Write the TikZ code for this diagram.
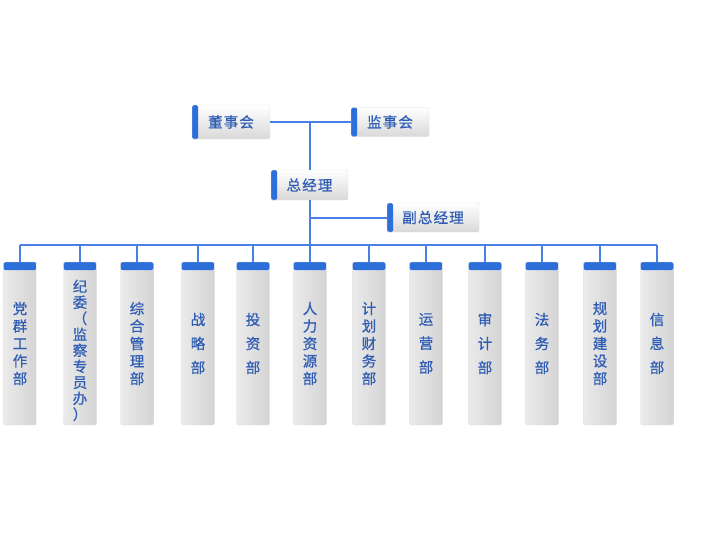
\documentclass[tikz,border=0pt]{standalone}
\usepackage{fontspec}
\newfontfamily\cjk[FakeBold=0.8]{Noto Sans CJK SC}
\newfontfamily\cjkwide[FakeBold=0.8, LetterSpace=8]{Noto Sans CJK SC}
\definecolor{linkblue}{HTML}{4A7FE6}
\definecolor{capblue}{HTML}{2C6FDB}
\definecolor{txtblue}{HTML}{2F5DB4}
\tikzset{
	conn/.style={draw=linkblue, line width=2pt},
	topbox/.style={rectangle, rounded corners=1.5pt, draw=black!12, top color=white, bottom color=black!15,
		inner sep=0pt, text=txtblue, font=\cjkwide\fontsize{14.5}{16}\selectfont,
		path picture={\fill[capblue] (path picture bounding box.north west) rectangle ([xshift=6pt]path picture bounding box.south west);}},
	dept/.style={rectangle, rounded corners=2pt, draw=black!12, shading=axis, left color=black!8, middle color=black!3, right color=black!17,
		minimum width=33pt, minimum height=163pt, inner sep=0pt, align=center, text=txtblue,
		font=\cjk\fontsize{14.5}{17.5}\selectfont,
		path picture={\fill[capblue] (path picture bounding box.north west) rectangle ([yshift=-8pt]path picture bounding box.north east);}},
	deptshort/.style={dept, font=\cjk\fontsize{14.5}{24}\selectfont},
	deptlong/.style={dept, font=\cjk\fontsize{14.5}{16}\selectfont}
}
\begin{document}
\begin{tikzpicture}[x=1pt, y=-1pt]
	%%%%% START %%%%%
	\useasboundingbox (0,0) rectangle (709,555);
	
	\node[topbox, minimum width=78pt, minimum height=34pt] (dsh) at (231,122) {董事会};
	\node[topbox, minimum width=78pt, minimum height=29pt] (jsh) at (390,122) {监事会};
	\node[topbox, minimum width=77pt, minimum height=30pt] (zjl) at (309.5,185) {总经理};
	\node[topbox, minimum width=92pt, minimum height=29pt] (fzjl) at (433,217.5) {副总经理};
	\coordinate (bus) at (309.5,245);
	
	\node[dept] (d1) at (20,343.5) {党\\群\\工\\作\\部};
	\node[deptlong] (d2) at (80,343.5) {\rule{0pt}{26pt}纪\\委\\（\\监\\察\\专\\员\\办\\）};
	\node[dept] (d3) at (137,343.5) {综\\合\\管\\理\\部};
	\node[deptshort] (d4) at (198,343.5) {战\\略\\部};
	\node[deptshort] (d5) at (253,343.5) {投\\资\\部};
	\node[dept] (d6) at (310,343.5) {人\\力\\资\\源\\部};
	\node[dept] (d7) at (369,343.5) {计\\划\\财\\务\\部};
	\node[deptshort] (d8) at (426,343.5) {运\\营\\部};
	\node[deptshort] (d9) at (485,343.5) {审\\计\\部};
	\node[deptshort] (d10) at (542,343.5) {法\\务\\部};
	\node[dept] (d11) at (600,343.5) {规\\划\\建\\设\\部};
	\node[deptshort] (d12) at (657,343.5) {信\\息\\部};
	
	\draw[conn] (dsh.east) -- (jsh.west);
	\draw[conn] (dsh.east -| zjl.north) -- (zjl.north);
	\draw[conn] (zjl.south) -- (bus);
	\draw[conn] (zjl.south |- fzjl.west) -- (fzjl.west);
	
	\draw[conn] (d1.north |- bus) -- (d12.north |- bus);
	\draw[conn] (d1.north |- bus) -- (d1.north);
	\draw[conn] (d2.north |- bus) -- (d2.north);
	\draw[conn] (d3.north |- bus) -- (d3.north);
	\draw[conn] (d4.north |- bus) -- (d4.north);
	\draw[conn] (d5.north |- bus) -- (d5.north);
	\draw[conn] (d6.north |- bus) -- (d6.north);
	\draw[conn] (d7.north |- bus) -- (d7.north);
	\draw[conn] (d8.north |- bus) -- (d8.north);
	\draw[conn] (d9.north |- bus) -- (d9.north);
	\draw[conn] (d10.north |- bus) -- (d10.north);
	\draw[conn] (d11.north |- bus) -- (d11.north);
	\draw[conn] (d12.north |- bus) -- (d12.north);
	
	%%%%% END %%%%%
\end{tikzpicture}
\end{document}
